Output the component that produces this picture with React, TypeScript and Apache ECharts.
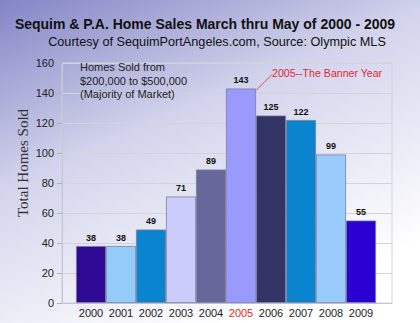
import React, { useEffect, useRef } from "react";
import * as echarts from "echarts";

const years = ["2000", "2001", "2002", "2003", "2004", "2005", "2006", "2007", "2008", "2009"];
const homesSold = [38, 38, 49, 71, 89, 143, 125, 122, 99, 55];
const barColors = ["#2e0a94", "#93ccfb", "#0a84cf", "#ccccfc", "#66679a", "#9a9afc", "#333366", "#0a84cf", "#99ccfc", "#2b00d2"];
const yTicks = { min: 0, max: 160, interval: 20 };
const noteLines = ["Homes Sold from", "$200,000 to $500,000", "(Majority of Market)"];
const bannerText = "2005--The Banner Year";
const bannerYear = "2005";

export default function App() {
  const ref = useRef<HTMLDivElement>(null);
  useEffect(() => {
    document.body.style.margin = "0";
    const chart = echarts.init(ref.current!, null, { renderer: "svg" });
    const font = "Liberation Sans, Arial, sans-serif";
    const option: any = {
      animation: false,
      backgroundColor: {
        type: "linear", x: 0, y: 0, x2: 0.55, y2: 1,
        colorStops: [
          { offset: 0, color: "#8385c6" },
          { offset: 0.45, color: "#d3d4ec" },
          { offset: 1, color: "#ffffff" },
        ],
      },
      grid: [
        { left: 62, right: 28, top: 63, bottom: 20, show: true, borderColor: "#d2d3df", borderWidth: 1, backgroundColor: "transparent" },
        { left: 76, right: 44, top: 63, bottom: 20 },
      ],
      xAxis: [
        { type: "category", gridIndex: 0, data: [""], axisLine: { show: true, lineStyle: { color: "#c4c6d2" } }, axisTick: { show: false }, axisLabel: { show: false } },
        {
          type: "category", gridIndex: 1, data: years,
          axisLine: { show: false }, axisTick: { show: false },
          axisLabel: {
            interval: 0, margin: 4, fontSize: 11, fontFamily: font, color: "#222",
            formatter: (v: string) => (v === bannerYear ? "{red|" + v + "}" : v),
            rich: { red: { color: "#e02828", fontSize: 11, fontFamily: font } },
          },
        },
      ],
      yAxis: [
        {
          type: "value", gridIndex: 0, min: yTicks.min, max: yTicks.max, interval: yTicks.interval,
          axisLine: { show: true, lineStyle: { color: "#c4c6d2" } },
          axisTick: { show: true, length: 5, lineStyle: { color: "#b0b2c0" } },
          axisLabel: { fontSize: 11, fontFamily: font, color: "#222", margin: 8 },
          splitLine: { show: true, lineStyle: { color: "#d2d3df", width: 1 } },
        },
        { type: "value", gridIndex: 1, min: yTicks.min, max: yTicks.max, show: false, splitLine: { show: false } },
      ],
      series: [
        {
          type: "bar", xAxisIndex: 1, yAxisIndex: 1, barCategoryGap: "0%",
          data: homesSold.map((v, i) => ({ value: v, itemStyle: { color: barColors[i], borderColor: "#7b7f9c", borderWidth: 0.8 } })),
          label: { show: true, position: "top", distance: 4, fontSize: 9, fontWeight: "bold", fontFamily: font, color: "#111" },
        },
      ],
      graphic: [
        { type: "text", x: 205, y: 24, style: { text: "Sequim & P.A. Home Sales March thru May of 2000 - 2009", font: "bold 14px Liberation Sans, Arial, sans-serif", fill: "#111", textAlign: "center", textVerticalAlign: "middle" } },
        { type: "text", x: 217, y: 42, style: { text: "Courtesy of SequimPortAngeles.com, Source: Olympic MLS", font: "12.7px Liberation Sans, Arial, sans-serif", fill: "#111", textAlign: "center", textVerticalAlign: "middle" } },
        { type: "text", x: 23, y: 163, rotation: Math.PI / 2, style: { text: "Total Homes Sold", font: "15px Liberation Serif, Times New Roman, serif", fill: "#333", textAlign: "center", textVerticalAlign: "middle" } },
        ...noteLines.map((t, i) => ({ type: "text", x: 80, y: 67 + i * 13.5, style: { text: t, font: "11px Liberation Sans, Arial, sans-serif", fill: "#222", textAlign: "left", textVerticalAlign: "middle" } })),
      ],
    };
    chart.setOption(option);
    const idx = years.indexOf(bannerYear);
    const p = chart.convertToPixel({ xAxisIndex: 1, yAxisIndex: 1 } as any, [idx, homesSold[idx]]) as number[];
    const bandW = chart.convertToPixel({ xAxisIndex: 1 } as any, 1) - chart.convertToPixel({ xAxisIndex: 1 } as any, 0);
    const x0 = p[0] + bandW / 2;
    const y0 = p[1] + 2;
    chart.setOption({
      graphic: [
        ...option.graphic,
        { type: "line", shape: { x1: x0, y1: y0, x2: x0 + 16, y2: y0 - 16 }, style: { stroke: "#d83040", lineWidth: 0.8 } },
        { type: "text", x: x0 + 16, y: y0 - 12, style: { text: bannerText, font: "10.6px Liberation Sans, Arial, sans-serif", fill: "#e02838", textAlign: "left", textVerticalAlign: "bottom" } },
      ],
    }, { replaceMerge: ["graphic"] } as any);
    return () => chart.dispose();
  }, []);
  return <div ref={ref} style={{ width: 420, height: 323 }} />;
}
